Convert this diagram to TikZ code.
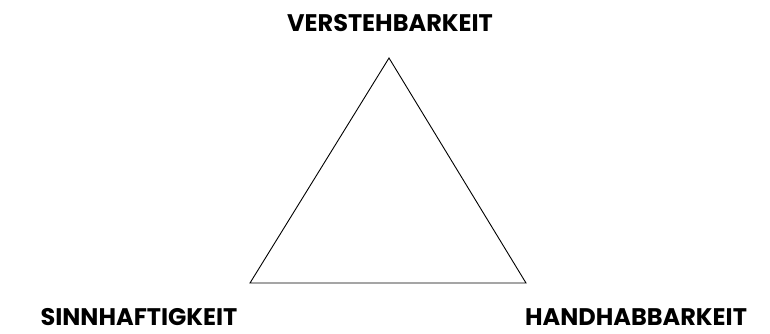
\documentclass[tikz,border=0pt]{standalone}
\usepackage{fontspec}
\setmainfont{Poppins}
\usepackage{tikz}
\usetikzlibrary{positioning,calc}

\tikzset{
  dimlabel/.style={font=\bfseries\fontsize{24}{24}\selectfont, inner sep=0pt,
    text depth=0pt, anchor=base},
  edge/.style={draw=black, line width=0.9pt, line join=miter}
}

\begin{document}
\begin{tikzpicture}[x=1pt,y=-1pt]
  \useasboundingbox (0,0) rectangle (770,333);
  % corners of the triangle
  \coordinate (top) at (389,58);
  \coordinate (left) at (250,283);
  \coordinate (right) at (526,283);
  \draw[edge] (top) -- (left) -- (right) -- cycle;
  % labels
  \node[dimlabel] (verst) at (390,31) {VERSTEHBARKEIT};
  \node[dimlabel] (sinn) at (139,325) {SINNHAFTIGKEIT};
  \node[dimlabel] (hand) at (636,325) {HANDHABBARKEIT};
\end{tikzpicture}
\end{document}
